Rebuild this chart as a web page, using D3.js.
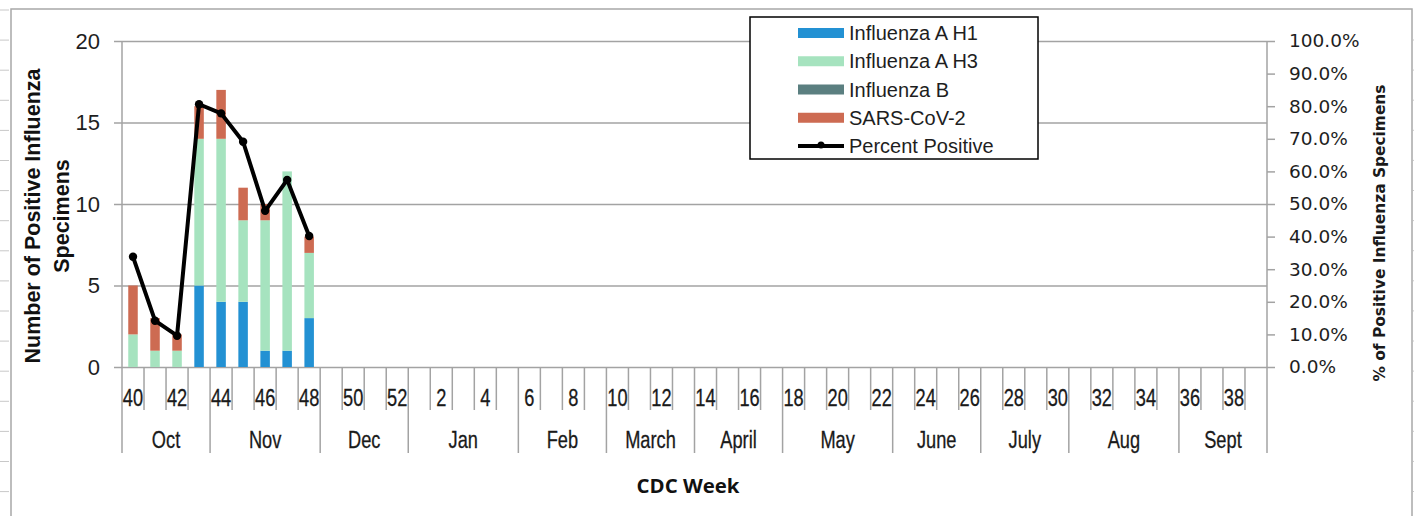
<!DOCTYPE html>
<html>
<head>
<meta charset="utf-8">
<script src="https://cdn.jsdelivr.net/npm/d3@7"></script>
<style>
  body { margin: 0; background: #fff; }
  svg { display: block; }
</style>
</head>
<body>
<svg id="chart"></svg>
<script>
// CDC weeks for the season, 40 .. 52 then 1 .. 39
const weeks = [40, 41, 42, 43, 44, 45, 46, 47, 48, 49, 50, 51, 52,
  1, 2, 3, 4, 5, 6, 7, 8, 9, 10, 11, 12, 13, 14, 15, 16, 17, 18, 19, 20,
  21, 22, 23, 24, 25, 26, 27, 28, 29, 30, 31, 32, 33, 34, 35, 36, 37, 38, 39]
const weekLabels = [40, 42, 44, 46, 48, 50, 52, 2, 4, 6, 8, 10, 12, 14, 16, 18,
  20, 22, 24, 26, 28, 30, 32, 34, 36, 38]
const months = ['Oct', 'Nov', 'Dec', 'Jan', 'Feb', 'March', 'April', 'May', 'June', 'July', 'Aug', 'Sept']
const monthWeeks = [4, 5, 4, 5, 4, 4, 4, 5, 4, 4, 5, 4]

// reported weeks so far
const dataWeeks = [40, 41, 42, 43, 44, 45, 46, 47, 48]
const fluAH1 = [0, 0, 0, 5, 4, 4, 1, 1, 3]
const fluAH3 = [2, 1, 1, 9, 10, 5, 8, 11, 4]
const fluB = [0, 0, 0, 0, 0, 0, 0, 0, 0]
const sarsCov2 = [3, 2, 1, 2, 3, 2, 1, 0, 1]
const pctPositive = [0.338, 0.142, 0.096, 0.806, 0.778, 0.691, 0.479, 0.574, 0.402]

const seriesNames = ['Influenza A H1', 'Influenza A H3', 'Influenza B', 'SARS-CoV-2']
const seriesColors = ['#2391d3', '#a6e3bf', '#5b7f80', '#cd6b52']
const countTicks = [0, 5, 10, 15, 20]

const W = 1414, H = 516
const m = { left: 122, right: 1267, top: 41, bottom: 367 }
const gridColor = '#a3a3a3'

const svg = d3.select('#chart').attr('width', W).attr('height', H)

// outer frame of the chart area (cut off at the bottom)
svg.append('rect')
  .attr('x', 11).attr('y', 9).attr('width', 1401).attr('height', 530)
  .attr('fill', 'none').attr('stroke', '#a8a8a8').attr('stroke-width', 1.5)
for (let yy = 10; yy < H; yy += 30.1) {
  svg.append('line').attr('x1', 0).attr('x2', 9).attr('y1', yy).attr('y2', yy)
    .attr('stroke', '#c8c8c8').attr('stroke-width', 1)
  svg.append('line').attr('x1', 1413).attr('x2', 1414).attr('y1', yy + 30).attr('y2', yy + 30)
    .attr('stroke', '#c8c8c8').attr('stroke-width', 1)
}

const x = d3.scaleBand().domain(weeks).range([m.left, m.right]).padding(0)
const y = d3.scaleLinear().domain([0, 20]).range([m.bottom, m.top])
const yPct = d3.scaleLinear().domain([0, 1]).range([m.bottom, m.top])

// horizontal grid
svg.append('g')
  .attr('transform', `translate(${m.left},0)`)
  .call(d3.axisLeft(y).tickValues(countTicks).tickSize(-(m.right - m.left)).tickFormat(''))
  .call(g => g.select('.domain').remove())
  .selectAll('line').attr('stroke', gridColor).attr('stroke-width', 1.5)

// left axis
const yAxis = svg.append('g')
  .attr('transform', `translate(${m.left},0)`)
  .call(d3.axisLeft(y).tickValues(countTicks).tickSize(8).tickPadding(14))
yAxis.select('.domain').remove()
yAxis.selectAll('line').attr('stroke', gridColor).attr('stroke-width', 1.5)
yAxis.selectAll('text')
  .attr('font-family', 'Liberation Sans, Arial, sans-serif')
  .attr('font-size', 22).attr('fill', '#1e1e1e')

// right axis
const yAxisR = svg.append('g')
  .attr('transform', `translate(${m.right},0)`)
  .call(d3.axisRight(yPct).ticks(10).tickSize(8).tickPadding(14).tickFormat(d3.format('.1%')))
yAxisR.select('.domain').remove()
yAxisR.selectAll('line').attr('stroke', gridColor).attr('stroke-width', 1.5)
yAxisR.selectAll('text')
  .attr('font-family', 'DejaVu Sans, Verdana, sans-serif')
  .attr('font-size', 18.5).attr('fill', '#1e1e1e')

// vertical axis lines, extended down through the category labels
svg.append('line').attr('x1', m.left).attr('x2', m.left).attr('y1', m.top).attr('y2', 453)
  .attr('stroke', gridColor).attr('stroke-width', 1.5)
svg.append('line').attr('x1', m.right).attr('x2', m.right).attr('y1', m.top).attr('y2', 453)
  .attr('stroke', gridColor).attr('stroke-width', 1.5)

// week ticks and month separators
const monthStart = []
let acc = 0
monthWeeks.forEach(n => { monthStart.push(acc); acc += n })
const bounds = svg.append('g')
weeks.forEach((w, i) => {
  if (i === 0) return
  const isMonth = monthStart.includes(i)
  bounds.append('line')
    .attr('x1', x(w)).attr('x2', x(w))
    .attr('y1', m.bottom).attr('y2', isMonth ? 453 : 410)
    .attr('stroke', gridColor).attr('stroke-width', 1.5)
})

// week labels (narrow font)
svg.append('g').selectAll('text')
  .data(weekLabels)
  .join('text')
  .attr('transform', d => `translate(${x(d) + x.bandwidth() / 2},405.5) scale(0.76,1)`)
  .attr('text-anchor', 'middle')
  .attr('font-family', 'Liberation Sans, Arial, sans-serif')
  .attr('font-size', 24).attr('fill', '#1a1a1a')
  .attr('stroke', '#1a1a1a').attr('stroke-width', 0.3)
  .text(d => d)

// month labels
svg.append('g').selectAll('text')
  .data(months)
  .join('text')
  .attr('transform', (d, i) => {
    const a = x(weeks[monthStart[i]])
    const b = a + monthWeeks[i] * x.bandwidth()
    return `translate(${(a + b) / 2},447.5) scale(0.76,1)`
  })
  .attr('text-anchor', 'middle')
  .attr('font-family', 'Liberation Sans, Arial, sans-serif')
  .attr('font-size', 24).attr('fill', '#1a1a1a')
  .attr('stroke', '#1a1a1a').attr('stroke-width', 0.3)
  .text(d => d)

// stacked bars
const rows = dataWeeks.map((w, i) => ({
  week: w, h1: fluAH1[i], h3: fluAH3[i], b: fluB[i], sars: sarsCov2[i]
}))
const stack = d3.stack().keys(['h1', 'h3', 'b', 'sars'])(rows)
const barW = 9.5
svg.append('g').selectAll('g')
  .data(stack)
  .join('g')
  .attr('fill', (d, i) => seriesColors[i])
  .selectAll('rect')
  .data(d => d)
  .join('rect')
  .attr('x', d => x(d.data.week) + (x.bandwidth() - barW) / 2)
  .attr('y', d => y(d[1]))
  .attr('width', barW)
  .attr('height', d => y(d[0]) - y(d[1]))

// percent positive line
const pts = dataWeeks.map((w, i) => [x(w) + x.bandwidth() / 2, yPct(pctPositive[i])])
svg.append('path')
  .attr('d', d3.line()(pts))
  .attr('fill', 'none').attr('stroke', '#000').attr('stroke-width', 4)
  .attr('stroke-linejoin', 'round')
svg.append('g').selectAll('circle')
  .data(pts)
  .join('circle')
  .attr('cx', d => d[0]).attr('cy', d => d[1]).attr('r', 4.2)
  .attr('fill', '#000')

// axis titles
const lt = svg.append('text')
  .attr('transform', 'translate(40,216) rotate(-90)')
  .attr('text-anchor', 'middle')
  .attr('font-family', 'Liberation Sans, Arial, sans-serif')
  .attr('font-weight', 'bold').attr('font-size', 21.5).attr('fill', '#111')
lt.append('tspan').attr('x', 0).attr('y', 0).text('Number of Positive Influenza')
lt.append('tspan').attr('x', 0).attr('y', 29).text('Specimens')

svg.append('text')
  .attr('transform', 'translate(1385,233) rotate(-90)')
  .attr('text-anchor', 'middle')
  .attr('font-family', 'DejaVu Sans, Verdana, sans-serif')
  .attr('font-weight', 'bold').attr('font-size', 15.5).attr('fill', '#1a1a1a')
  .attr('textLength', 297).attr('lengthAdjust', 'spacingAndGlyphs')
  .text('% of Positive Influenza Specimens')

svg.append('text')
  .attr('x', 688).attr('y', 493)
  .attr('text-anchor', 'middle')
  .attr('font-family', 'Open Sans, sans-serif')
  .attr('font-weight', 'bold').attr('font-size', 19).attr('fill', '#111')
  .attr('textLength', 103).attr('lengthAdjust', 'spacingAndGlyphs')
  .text('CDC Week')

// legend
const lg = svg.append('g')
lg.append('rect')
  .attr('x', 750).attr('y', 17).attr('width', 288).attr('height', 142)
  .attr('fill', '#fff').attr('stroke', '#000').attr('stroke-width', 1.5)
const legendY = d3.scalePoint().domain(d3.range(5)).range([33, 146])
seriesNames.forEach((name, i) => {
  lg.append('rect')
    .attr('x', 798).attr('y', legendY(i) - 5).attr('width', 46).attr('height', 10)
    .attr('fill', seriesColors[i])
})
lg.append('line')
  .attr('x1', 798).attr('x2', 844).attr('y1', legendY(4)).attr('y2', legendY(4))
  .attr('stroke', '#000').attr('stroke-width', 4)
lg.append('circle').attr('cx', 821).attr('cy', legendY(4) - 1).attr('r', 3.5).attr('fill', '#000')
lg.selectAll('text.lab')
  .data(seriesNames.concat(['Percent Positive']))
  .join('text')
  .attr('class', 'lab')
  .attr('x', 849).attr('y', (d, i) => legendY(i))
  .attr('dy', '0.36em')
  .attr('font-family', 'Liberation Sans, Arial, sans-serif')
  .attr('font-size', 20).attr('fill', '#1e1e1e')
  .text(d => d)
</script>
</body>
</html>
